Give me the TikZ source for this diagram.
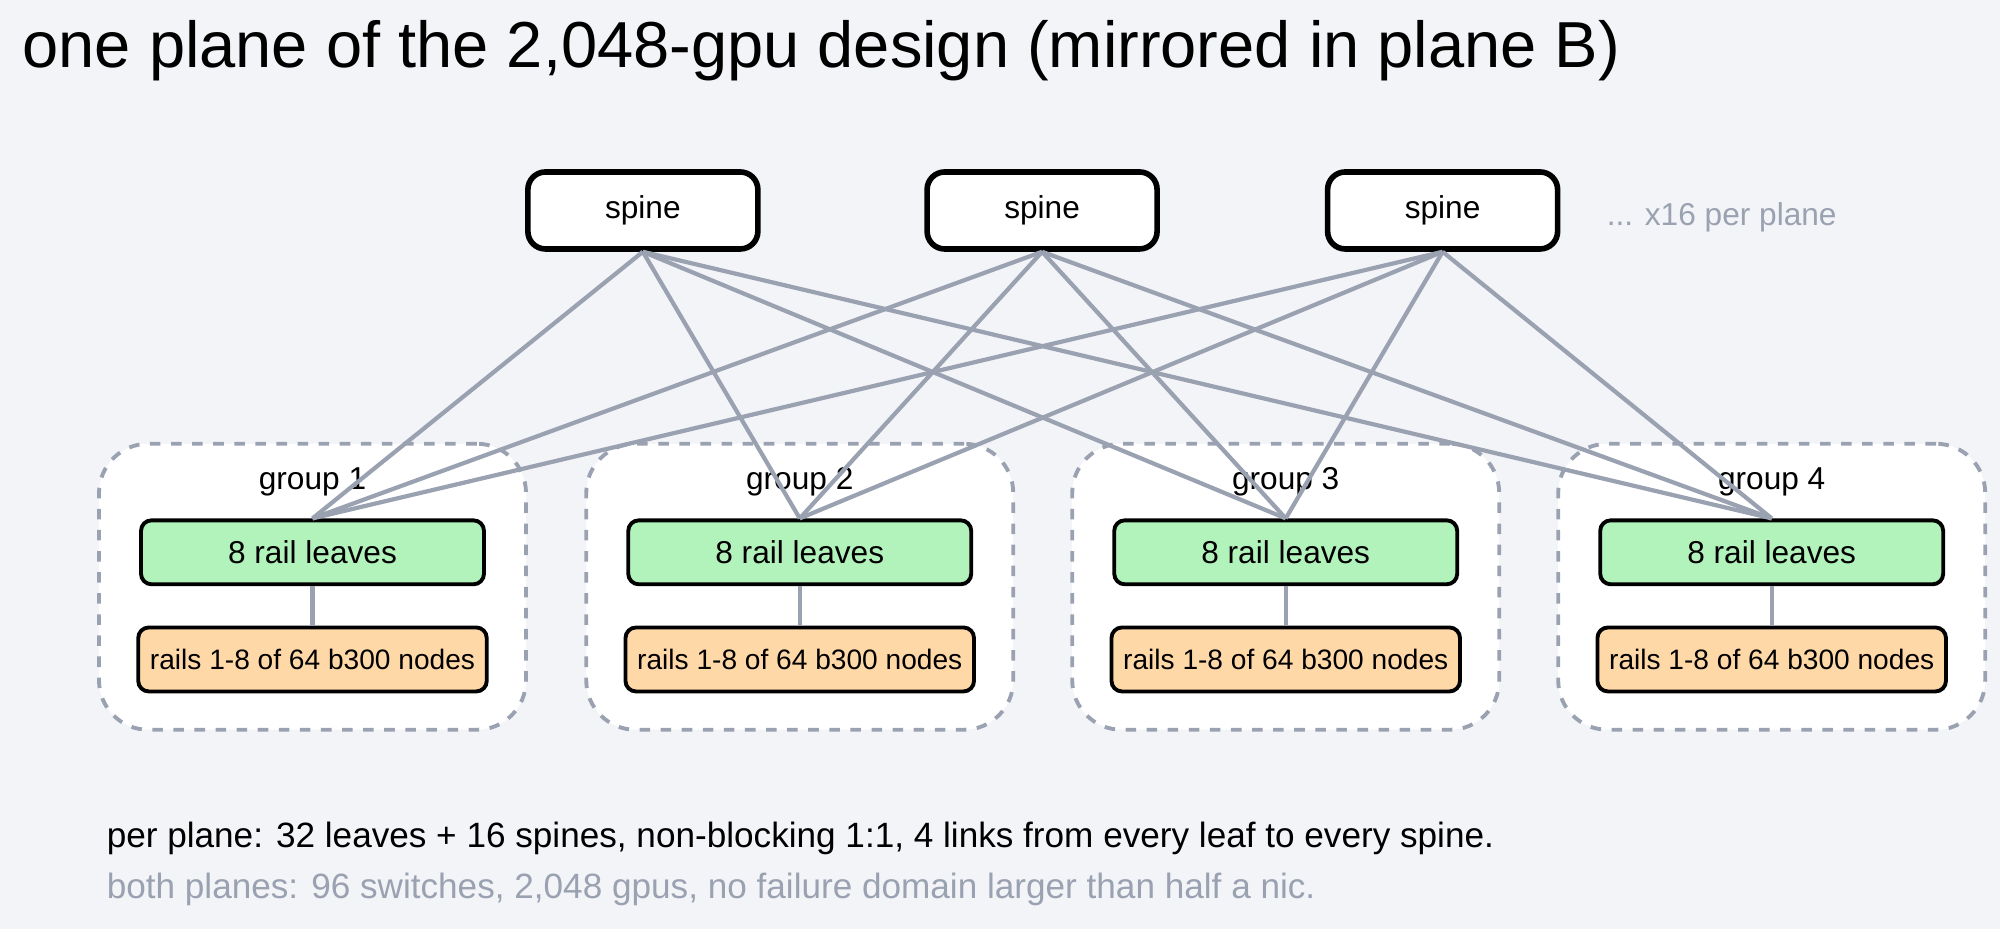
\documentclass[tikz,border=0pt]{standalone}
\usepackage{fontspec}
\setmainfont{Liberation Sans}
\definecolor{bgc}{HTML}{F3F4F8}
\definecolor{linkc}{HTML}{9AA2B1}
\definecolor{leafc}{HTML}{B2F2BB}
\definecolor{railc}{HTML}{FFD8A8}
\definecolor{notec}{HTML}{9AA2B1}
\tikzset{
  spine/.style={draw=black, line width=1.6pt, rounded corners=5pt, fill=white,
    minimum width=2.3cm, minimum height=0.77cm, font=\small},
  group/.style={draw=linkc, dashed, line width=1.1pt, rounded corners=14pt, fill=white,
    minimum width=4.27cm, minimum height=2.86cm},
  leaf/.style={draw=black, line width=1.1pt, rounded corners=3pt, fill=leafc,
    minimum width=3.43cm, minimum height=0.64cm, font=\small},
  rail/.style={draw=black, line width=1.1pt, rounded corners=3pt, fill=railc,
    minimum width=3.43cm, minimum height=0.64cm, font=\footnotesize},
  link/.style={draw=linkc, line width=1.2pt}
}
\begin{document}
\begin{tikzpicture}[x=0.012755cm, y=-0.012755cm]
    % Sfondo
    \fill[bgc] (0,0) rectangle (1568,728);
    \useasboundingbox (0,0) rectangle (1568,728);
    \node[anchor=west, font=\fontsize{18.5}{22}\selectfont] (title) at (8,40)
      {one plane of the 2,048-gpu design (mirrored in plane B)};

    % Gruppi
    \foreach \g/\x in {1/245, 2/627, 3/1008, 4/1389} {
      \node[group] (grp\g) at (\x,460) {};
      \node[font=\small] (glab\g) at (\x,378) {group \g};
      \node[leaf] (leaf\g) at (\x,433) {8 rail leaves};
      \node[rail] (rail\g) at (\x,517) {rails 1-8 of 64 b300 nodes};
      \draw[link] (leaf\g.south) -- (rail\g.north);
    }

    % Spine
    \foreach \s/\x in {1/504, 2/817, 3/1131} {
      \node[spine] (spine\s) at (\x,165) {spine};
    }
    \node[anchor=west, text=notec, font=\small] (more) at (1250,170) {... x16 per plane};

    % Collegamenti
    \foreach \s in {1,2,3} {
      \foreach \g in {1,...,4} {
        \draw[link] (spine\s.south) -- (leaf\g.north);
      }
    }

    % Note
    \node[anchor=west, font=\normalsize] (note1) at (74,657)
      {per plane: 32 leaves + 16 spines, non-blocking 1:1, 4 links from every leaf to every spine.};
    \node[anchor=west, text=notec, font=\normalsize] (note2) at (74,697)
      {both planes: 96 switches, 2,048 gpus, no failure domain larger than half a nic.};
\end{tikzpicture}
\end{document}
